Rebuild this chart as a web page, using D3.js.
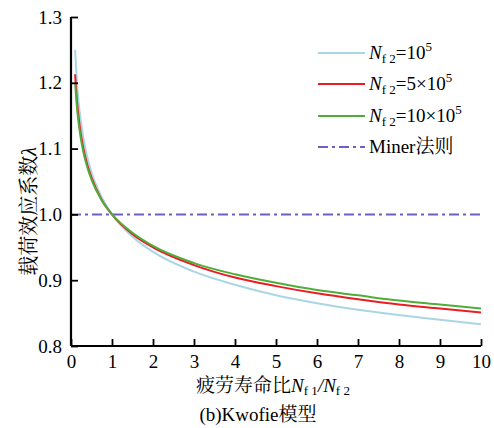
<!DOCTYPE html>
<html>
<head>
<meta charset="utf-8">
<script src="https://cdn.jsdelivr.net/npm/d3@7"></script>
<style>
  body { margin: 0; background: #fff; }
</style>
</head>
<body>
<div id="chart"></div>
<script>
// x values (fatigue life ratio Nf1/Nf2)
const ratios = [0.1, 0.15, 0.2, 0.3, 0.4, 0.5, 0.75, 1, 1.5, 2, 3, 4, 5, 6, 7, 8, 9, 10];

// load effect coefficient
const lam1e5 = [1.250, 1.197, 1.162, 1.117, 1.086, 1.064, 1.026, 1.000, 0.966, 0.943, 0.913, 0.893, 0.877, 0.865, 0.855, 0.847, 0.840, 0.833];
const lam5e5 = [1.213, 1.169, 1.140, 1.101, 1.075, 1.056, 1.022, 1.000, 0.970, 0.950, 0.923, 0.904, 0.891, 0.880, 0.871, 0.863, 0.857, 0.851];
const lam10e5 = [1.200, 1.159, 1.132, 1.095, 1.071, 1.053, 1.021, 1.000, 0.972, 0.952, 0.926, 0.909, 0.896, 0.885, 0.877, 0.869, 0.863, 0.857];
const minerValue = 1.0;

const xTicks = [0, 1, 2, 3, 4, 5, 6, 7, 8, 9, 10];
const yTicks = [0.8, 0.9, 1.0, 1.1, 1.2, 1.3];

const series = [
  { name: "1e5", values: lam1e5, color: "#a9d6e5" },
  { name: "5e5", values: lam5e5, color: "#ea1c24" },
  { name: "10e5", values: lam10e5, color: "#4fae3a" }
];

const SERIF = "'Liberation Serif', 'Noto Serif CJK SC', serif";
const CJK = "'Noto Serif CJK SC', serif";

const width = 494, height = 428;
const margin = { top: 17, right: 13, bottom: 82, left: 71 };

const svg = d3.select("#chart").append("svg")
  .attr("width", width)
  .attr("height", height)
  .attr("font-family", SERIF);

const x = d3.scaleLinear().domain([0, 10]).range([margin.left, width - margin.right]);
const y = d3.scaleLinear().domain([0.8, 1.3]).range([height - margin.bottom, margin.top]);

// miner line
svg.append("line")
  .attr("x1", x(0)).attr("x2", x(10))
  .attr("y1", y(minerValue)).attr("y2", y(minerValue))
  .attr("stroke", "#6b5fc9")
  .attr("stroke-width", 2)
  .attr("stroke-dasharray", "10,4,3,4");

// curves
const line = d3.line()
  .x((d, i) => x(ratios[i]))
  .y(d => y(d))
  .curve(d3.curveMonotoneX);

series.forEach(s => {
  svg.append("path")
    .attr("d", line(s.values))
    .attr("fill", "none")
    .attr("stroke", s.color)
    .attr("stroke-width", 2);
});

// axes
const yAxis = d3.axisLeft(y).tickValues(yTicks).tickSize(-7).tickPadding(9)
  .tickFormat(d3.format(".1f"));
const xAxis = d3.axisBottom(x).tickValues(xTicks).tickSize(-7).tickPadding(8)
  .tickFormat(d3.format("d"));

const gy = svg.append("g").attr("transform", `translate(${x(0)},0)`).call(yAxis);
const gx = svg.append("g").attr("transform", `translate(0,${y(0.8)})`).call(xAxis);

[gx, gy].forEach(g => {
  g.attr("font-family", SERIF).attr("font-size", 19);
  g.select(".domain").attr("stroke", "#000").attr("stroke-width", 2.2);
  g.selectAll(".tick line").attr("stroke", "#000").attr("stroke-width", 1.8);
  g.selectAll(".tick text").attr("fill", "#000");
});
// only spines, no outer ends
gy.select(".domain").attr("d", `M0,${y(1.3)}V${y(0.8)}`);
gx.select(".domain").attr("d", `M${x(0)},0H${x(10)}`);
gx.selectAll(".tick text").attr("dy", "0.72em");

// y label
const yl = svg.append("text")
  .attr("transform", `translate(36,${(y(0.8) + y(1.3)) / 2 + 30}) rotate(-90)`)
  .attr("text-anchor", "middle")
  .attr("font-size", 20);
yl.append("tspan").attr("font-family", CJK).text("载荷效应系数");
yl.append("tspan").attr("font-style", "italic").text("λ");

// x label
const xl = svg.append("text")
  .attr("x", 273).attr("y", 392)
  .attr("text-anchor", "middle")
  .attr("font-size", 19);
xl.append("tspan").attr("font-family", CJK).text("疲劳寿命比");
xl.append("tspan").attr("font-style", "italic").text("N");
xl.append("tspan").attr("font-size", 13).attr("dy", 3).text("f 1");
xl.append("tspan").attr("dy", -3).attr("font-style", "italic").text("/N");
xl.append("tspan").attr("font-size", 13).attr("dy", 3).text("f 2");

// caption
const cap = svg.append("text")
  .attr("x", 258).attr("y", 421)
  .attr("text-anchor", "middle")
  .attr("font-size", 19);
cap.append("tspan").text("(b)Kwofie");
cap.append("tspan").attr("font-family", CJK).text("模型");

// legend
const legendRows = [
  { color: series[0].color, dash: null, parts: ["=10", "5"] },
  { color: series[1].color, dash: null, parts: ["=5×10", "5"] },
  { color: series[2].color, dash: null, parts: ["=10×10", "5"] },
  { color: "#6b5fc9", dash: "10,4,3,4", parts: null }
];
const legendY = [53, 84, 116, 147];

legendRows.forEach((r, i) => {
  const ly = legendY[i];
  svg.append("line")
    .attr("x1", 318).attr("x2", 365)
    .attr("y1", ly).attr("y2", ly)
    .attr("stroke", r.color)
    .attr("stroke-width", 2)
    .attr("stroke-dasharray", r.dash);
  const t = svg.append("text").attr("x", 369).attr("y", ly + 6).attr("font-size", 19);
  if (r.parts) {
    t.append("tspan").attr("font-style", "italic").text("N");
    t.append("tspan").attr("font-size", 13).attr("dy", 4).text("f 2");
    t.append("tspan").attr("dy", -4).text(r.parts[0]);
    t.append("tspan").attr("font-size", 13).attr("dy", -8).text(r.parts[1]);
  } else {
    t.append("tspan").text("Miner");
    t.append("tspan").attr("font-family", CJK).text("法则");
  }
});
</script>
</body>
</html>
